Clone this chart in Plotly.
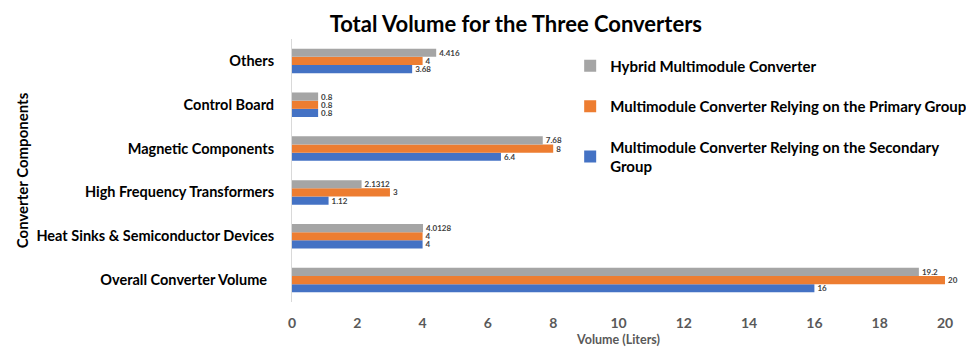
import plotly.graph_objects as go

# Component categories, listed bottom to top
components = [
    "Overall Converter Volume\u00a0\u00a0",
    "Heat Sinks & Semiconductor Devices",
    "High Frequency Transformers",
    "Magnetic Components",
    "Control Board",
    "Others",
]

# Volumes in liters for each converter design
secondary_group = [16, 4, 1.12, 6.4, 0.8, 3.68]
primary_group = [20, 4, 3, 8, 0.8, 4]
hybrid = [19.2, 4.0128, 2.1312, 7.68, 0.8, 4.416]

series_names = [
    "Multimodule Converter Relying on the Secondary<br>Group",
    "Multimodule Converter Relying on the Primary Group",
    "Hybrid Multimodule Converter",
]
series_values = [secondary_group, primary_group, hybrid]
series_colors = ["#4472C4", "#ED7D31", "#A5A5A5"]
legend_rank = [3, 2, 1]

x_ticks = [0, 2, 4, 6, 8, 10, 12, 14, 16, 18, 20]

FONT = "Lato, 'Open Sans', sans-serif"

fig = go.Figure()
for name, vals, color, rank in zip(series_names, series_values, series_colors, legend_rank):
    fig.add_trace(go.Bar(
        y=components,
        x=vals,
        orientation="h",
        name=name,
        legendgroup=name,
        legendrank=rank,
        marker=dict(color=color, line=dict(width=0)),
        text=[f"{v:g}" for v in vals],
        textposition="outside",
        constraintext="none",
        cliponaxis=False,
        textfont=dict(family=FONT, size=8, color="#404040", weight="bold"),
    ))

fig.update_layout(
    width=966,
    height=349,
    paper_bgcolor="white",
    plot_bgcolor="white",
    margin=dict(l=292, r=21, t=39, b=47, autoexpand=False),
    barmode="group",
    bargap=0.44,
    bargroupgap=0,
    font=dict(family=FONT),
    title=dict(
        text="<b>Total Volume for the Three Converters</b>",
        x=0.534, xanchor="center", y=0.93, yanchor="middle",
        font=dict(family=FONT, size=22, color="#000000"),
    ),
    legend=dict(
        x=0.426, xanchor="left", y=0.96, yanchor="top",
        traceorder="grouped",
        tracegroupgap=18,
        bgcolor="rgba(0,0,0,0)",
        font=dict(family=FONT, size=15, color="#000000", weight="bold"),
        itemwidth=30,
    ),
    xaxis=dict(
        range=[0, 20],
        tickvals=x_ticks,
        showgrid=False,
        zeroline=False,
        showline=False,
        ticklabelstandoff=11,
        tickfont=dict(family=FONT, size=14, color="#595959", weight="bold"),
        title=dict(text="<b>Volume (Liters)</b>", standoff=5,
                   font=dict(family=FONT, size=12.5, color="#595959")),
    ),
    yaxis=dict(
        showgrid=False,
        zeroline=False,
        showline=True,
        linecolor="#D9D9D9",
        linewidth=1,
        ticks="",
        ticklabelstandoff=14,
        tickfont=dict(family=FONT, size=14.5, color="#000000", weight="bold"),
        title=dict(text="<b>Converter Components</b>", standoff=4,
                   font=dict(family=FONT, size=15, color="#000000")),
    ),
)

fig.write_html("out.html")
